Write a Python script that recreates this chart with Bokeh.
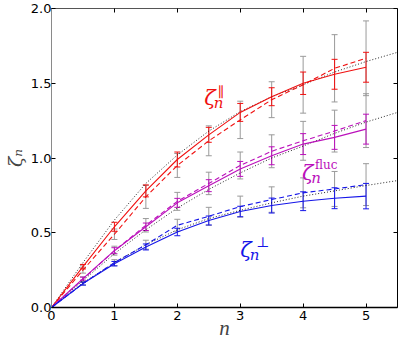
import numpy as np
from bokeh.plotting import figure
from bokeh.models import (Label, LinearAxis, FixedTicker, Whisker, TeeHead,
                          ColumnDataSource, CustomJSTickFormatter, Range1d)
from bokeh.embed import file_html
from bokeh.resources import INLINE

# ---------------- data ----------------
n = [0.5, 1.0, 1.5, 2.0, 2.5, 3.0, 3.5, 4.0, 4.5, 5.0]
n_theory = [0.0, 0.5, 1.0, 1.5, 2.0, 2.5, 3.0, 3.5, 4.0, 4.5, 5.0, 5.5]

par_solid = [0.273, 0.54, 0.78, 0.99, 1.155, 1.305, 1.41, 1.50, 1.56, 1.607]
par_dash = [0.25, 0.49, 0.74, 0.95, 1.115, 1.255, 1.39, 1.49, 1.60, 1.667]
par_theory = [0.0, 0.30, 0.585, 0.83, 1.02, 1.18, 1.31, 1.41, 1.49, 1.575, 1.645, 1.707]
par_err = [0.015, 0.03, 0.04, 0.05, 0.05, 0.06, 0.06, 0.075, 0.10, 0.10]
par_err_gray = [0.02, 0.035, 0.077, 0.08, 0.10, 0.125, 0.12, 0.19, 0.225, 0.25]

fluc_solid = [0.193, 0.38, 0.54, 0.70, 0.815, 0.927, 1.015, 1.093, 1.138, 1.193]
fluc_dash = [0.19, 0.38, 0.55, 0.71, 0.83, 0.95, 1.045, 1.115, 1.18, 1.25]
fluc_theory = [0.0, 0.18, 0.36, 0.52, 0.665, 0.79, 0.90, 1.0, 1.08, 1.165, 1.24, 1.305]
fluc_err = [0.01, 0.02, 0.025, 0.03, 0.04, 0.05, 0.06, 0.07, 0.08, 0.10]
fluc_err_gray = [0.015, 0.03, 0.045, 0.06, 0.075, 0.09, 0.11, 0.13, 0.14, 0.18]

perp_solid = [0.16, 0.293, 0.405, 0.505, 0.582, 0.642, 0.682, 0.711, 0.731, 0.745]
perp_dash = [0.16, 0.30, 0.42, 0.55, 0.61, 0.675, 0.722, 0.767, 0.793, 0.822]
perp_theory = [0.0, 0.165, 0.30, 0.42, 0.52, 0.595, 0.65, 0.70, 0.745, 0.78, 0.816, 0.849]
perp_err = [0.01, 0.015, 0.02, 0.025, 0.03, 0.035, 0.05, 0.063, 0.07, 0.085]
perp_err_gray = [0.01, 0.02, 0.03, 0.04, 0.06, 0.07, 0.085, 0.10, 0.117, 0.14]

x_ticks = [0, 1, 2, 3, 4, 5]
y_ticks = [0.0, 0.5, 1.0, 1.5, 2.0]
y_tick_labels = ["0.0", "0.5", "1.0", "1.5", "2.0"]

RED = "#f01010"
MAG = "#bb10bb"
BLUE = "#1515e8"
GRAY = "#9a9a9a"

p = figure(frame_width=346, frame_height=299, output_backend="svg",
           toolbar_location=None, x_range=Range1d(0, 5.5), y_range=Range1d(0, 2.0))
p.min_border = 0
p.min_border_left = 44
p.min_border_right = 9
p.min_border_top = 8
p.min_border_bottom = 26
p.xgrid.visible = False
p.ygrid.visible = False
p.outline_line_color = None
p.background_fill_color = "white"
p.border_fill_color = "white"

def style_axis(ax, color):
    ax.major_tick_in = 4
    ax.major_tick_out = 0
    ax.minor_tick_in = 0
    ax.minor_tick_out = 0
    ax.major_tick_line_color = "black"
    ax.axis_line_color = color
    ax.axis_line_width = 1
    ax.major_label_text_font = "DejaVu Sans"
    ax.major_label_text_font_size = "13px"
    ax.major_label_text_color = "black"

xa = p.xaxis[0]
xa.ticker = FixedTicker(ticks=x_ticks)
style_axis(xa, "black")
xa.axis_line_width = 1.3
xa.major_label_standoff = 3
xa.axis_label = "n"
xa.axis_label_text_font = "Liberation Serif"
xa.axis_label_text_font_style = "italic"
xa.axis_label_text_font_size = "21px"
xa.axis_label_standoff = -7

ya = p.yaxis[0]
ya.ticker = FixedTicker(ticks=y_ticks)
ya.major_label_overrides = {t: s for t, s in zip(y_ticks, y_tick_labels)}
style_axis(ya, "#8a8a8a")
ya.major_label_standoff = 0
ya.axis_label = "ζₙ"
ya.axis_label_text_font = "DejaVu Serif"
ya.axis_label_text_font_style = "italic"
ya.axis_label_text_font_size = "19px"
ya.axis_label_standoff = 2

blank = CustomJSTickFormatter(code="return ''")
top = LinearAxis(ticker=FixedTicker(ticks=x_ticks), formatter=blank)
style_axis(top, "#555555")
top.major_label_text_font_size = "1px"
top.major_label_standoff = 0
p.add_layout(top, "above")
right = LinearAxis(ticker=FixedTicker(ticks=y_ticks), formatter=blank)
style_axis(right, "black")
right.major_label_text_font_size = "1px"
right.major_label_standoff = 0
p.add_layout(right, "right")

n_line = [0.0] + n

def draw(solid, dash, theory, err, err_gray, color):
    p.line(n_theory, theory, line_color="black", line_dash="1 2", line_width=1,
           line_alpha=0.85)
    src_g = ColumnDataSource(dict(x=n, y=dash,
                                  lo=[v - e for v, e in zip(dash, err_gray)],
                                  hi=[v + e for v, e in zip(dash, err_gray)]))
    p.add_layout(Whisker(source=src_g, base="x", lower="lo", upper="hi",
                         line_color=GRAY, line_width=1,
                         upper_head=TeeHead(size=6, line_color=GRAY, line_width=1),
                         lower_head=TeeHead(size=6, line_color=GRAY, line_width=1)))
    p.line(n_line, [0.0] + dash, line_color=color, line_dash="5 3", line_width=1.1)
    p.line(n_line, [0.0] + solid, line_color=color, line_width=1.1)
    src_c = ColumnDataSource(dict(x=n, y=solid,
                                  lo=[v - e for v, e in zip(solid, err)],
                                  hi=[v + e for v, e in zip(solid, err)]))
    p.add_layout(Whisker(source=src_c, base="x", lower="lo", upper="hi",
                         line_color=color, line_width=1,
                         upper_head=TeeHead(size=6, line_color=color, line_width=1),
                         lower_head=TeeHead(size=6, line_color=color, line_width=1)))

draw(par_solid, par_dash, par_theory, par_err, par_err_gray, RED)
draw(fluc_solid, fluc_dash, fluc_theory, fluc_err, fluc_err_gray, MAG)
draw(perp_solid, perp_dash, perp_theory, perp_err, perp_err_gray, BLUE)

def label(x, y, text, color, size, italic=True, font="DejaVu Serif"):
    p.add_layout(Label(x=x, y=y, text=text, text_color=color,
                       text_font=font, text_font_size=size,
                       text_font_style="italic" if italic else "normal",
                       text_baseline="alphabetic", text_align="left"))

# in-plot series labels (data coordinates)
label(2.43, 1.40, "ζ", RED, "21px")
label(2.58, 1.365, "n", RED, "15px")
label(2.64, 1.44, "∥", RED, "14px", italic=False)

label(3.98, 0.90, "ζ", MAG, "21px")
label(4.13, 0.865, "n", MAG, "15px")
label(4.19, 0.955, "fluc", MAG, "12px", italic=False)

label(3.0, 0.385, "ζ", BLUE, "21px")
label(3.15, 0.35, "n", BLUE, "15px")
label(3.25, 0.44, "⊥", BLUE, "14px", italic=False)

open("out.html", "w").write(file_html(p, INLINE))
